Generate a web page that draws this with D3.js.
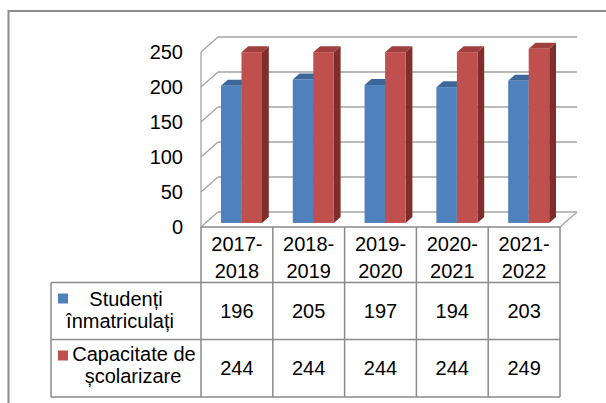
<!DOCTYPE html>
<html><head><meta charset="utf-8">
<script src="https://cdn.jsdelivr.net/npm/d3@7"></script>
<style>
html,body{margin:0;padding:0;background:#fff;}
text{font-family:"Liberation Sans",Arial,sans-serif;fill:#000;}
</style></head>
<body><svg id="c" width="606" height="403"></svg>
<script>
const categories = ["2017-2018","2018-2019","2019-2020","2020-2021","2021-2022"];
const seriesNames = ["Studenți înmatriculați","Capacitate de școlarizare"];
const studenti = [196,205,197,194,203];
const capacitate = [244,244,244,244,249];
const yTicks = [0,50,100,150,200,250];
const legendLines = [["Studenți","înmatriculați"],["Capacitate de","școlarizare"]];

const svg = d3.select("#c");
const colors = [
  {front:"#4F81BD", top:"#3D6799", side:"#2F5078"},
  {front:"#C0504D", top:"#A03F3C", side:"#7F2E2C"}
];
const grid = "#a3a3a3";
const x0 = 201, x1 = 560, baseF = 227;
const DX = 17, DY = -15;
const x = d3.scaleBand().domain(categories).range([x0, x1]);
const xi = d3.scaleBand().domain([0,1]).range([0, x.bandwidth()]).paddingOuter(0.75);
const y = d3.scaleLinear().domain([0,250]).range([baseF, baseF-175]);

// outer frame
svg.append("path").attr("d","M8.5,403 V11 H606").attr("fill","none").attr("stroke","#8c8c8c").attr("stroke-width",2);

// walls & grid
const g = svg.append("g");
yTicks.forEach(v=>{
  const yf = y(v);
  g.append("line").attr("x1",x0).attr("y1",yf).attr("x2",x0+DX).attr("y2",yf+DY).attr("stroke",grid).attr("stroke-width",1.3);
  g.append("line").attr("x1",x0+DX).attr("y1",yf+DY).attr("x2",x1+DX).attr("y2",yf+DY).attr("stroke",grid).attr("stroke-width",1.3);
});
g.append("line").attr("x1",x0).attr("y1",y(0)).attr("x2",x0).attr("y2",y(250)).attr("stroke",grid).attr("stroke-width",1.3);
g.append("line").attr("x1",x1).attr("y1",y(0)).attr("x2",x1+DX).attr("y2",y(0)+DY).attr("stroke",grid).attr("stroke-width",1.3);

// bars
const tF = 0.27, tD = 0.4;
const data = [studenti, capacitate];
categories.forEach((c,i)=>{
  [0,1].forEach(s=>{
    const v = data[s][i];
    const bx = x(c) + xi(s) + DX*tF;
    const w = xi.bandwidth();
    const yb = baseF + DY*tF;
    const yt = yb - (baseF - y(v));
    const ddx = DX*tD, ddy = DY*tD;
    const col = colors[s];
    g.append("path").attr("d",`M${bx+w},${yt}L${bx+w+ddx},${yt+ddy}L${bx+w+ddx},${yb+ddy}L${bx+w},${yb}Z`).attr("fill",col.side);
    g.append("path").attr("d",`M${bx},${yt}L${bx+ddx},${yt+ddy}L${bx+w+ddx},${yt+ddy}L${bx+w},${yt}Z`).attr("fill",col.top);
    g.append("rect").attr("x",bx).attr("y",yt).attr("width",w).attr("height",yb-yt).attr("fill",col.front);
  });
});

// y axis
const ax = svg.append("g").attr("transform",`translate(${x0},0)`)
  .call(d3.axisLeft(y).tickValues(yTicks).tickSize(0).tickPadding(18));
ax.select(".domain").remove();
ax.selectAll("text").attr("font-size",20).attr("font-family","Liberation Sans, Arial, sans-serif").attr("fill","#000");

// data table
const tb = svg.append("g");
const border = "#8a8a8a";
const rows = [227, 282.5, 339.5, 397];
const lx = 51;
function ln(a,b,c,d){tb.append("line").attr("x1",a).attr("y1",b).attr("x2",c).attr("y2",d).attr("stroke",border).attr("stroke-width",1.5);}
ln(x0,rows[0],x1,rows[0]);
ln(lx,rows[1],x1,rows[1]);
ln(lx,rows[2],x1,rows[2]);
ln(lx,rows[3],x1,rows[3]);
ln(lx,rows[1],lx,rows[3]);
categories.forEach(c=>ln(x(c),rows[0],x(c),rows[3]));
ln(x1,rows[0],x1,rows[3]);

categories.forEach(c=>{
  const cx = x(c)+x.bandwidth()/2;
  const parts = c.split("-");
  tb.append("text").attr("x",cx).attr("y",251).attr("text-anchor","middle").attr("font-size",20).text(parts[0]+"-");
  tb.append("text").attr("x",cx).attr("y",278).attr("text-anchor","middle").attr("font-size",20).text(parts[1]);
});
data.forEach((arr,s)=>{
  const cy = (rows[s+1]+rows[s+2])/2 + 7;
  arr.forEach((v,i)=>{
    tb.append("text").attr("x",x(categories[i])+x.bandwidth()/2).attr("y",cy).attr("text-anchor","middle").attr("font-size",20).text(v);
  });
  tb.append("rect").attr("x",58).attr("y",rows[s+1]+11).attr("width",10).attr("height",10).attr("fill",colors[s].front);
});
const legPos = [[[126,306],[120,328]],[[134,361],[133,383]]];
legendLines.forEach((lines,s)=>{
  lines.forEach((t,k)=>{
    tb.append("text").attr("x",legPos[s][k][0]).attr("y",legPos[s][k][1]).attr("text-anchor","middle").attr("font-size",20).text(t);
  });
});
</script></body></html>
